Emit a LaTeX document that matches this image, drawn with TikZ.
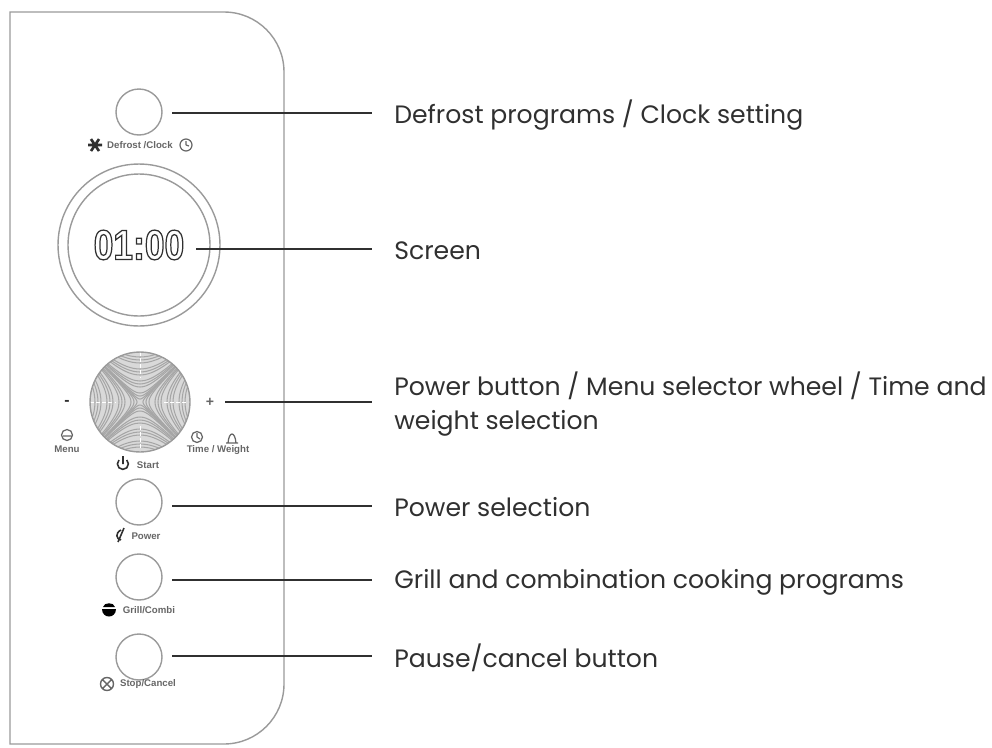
\documentclass[tikz,border=0pt]{standalone}
\usepackage{fontspec}
\setmainfont{Poppins}
\setsansfont{Liberation Sans}
\newfontfamily\lcdfont[FakeStretch=0.84]{Liberation Sans}
\usetikzlibrary{arrows.meta}

\definecolor{rimgray}{HTML}{9A9A9A}
\definecolor{inkgray}{HTML}{303030}
\definecolor{tinygray}{HTML}{666666}

\begin{document}
\begin{tikzpicture}[x=0.02cm,y=-0.02cm]
\useasboundingbox (0,0) rectangle (992,748);

% panel outline
\draw [rimgray,thick] (10,12) [rounded corners=1.2cm] -- (284,12) -- (284,744) [sharp corners] -- (10,744) -- cycle;

% wheel texture
\begin{scope}[shift={(140,402)}]
    \clip (0,0) circle (50);
    \fill [white!85!black] (-50,-50) rectangle (50,50);
    \foreach \a in {3,6,9,15,18,21,27,30,33,39,42,45,51,54,57,63,66,69} {
        \draw [gray!70,line width=0.6pt] plot [domain=-3:3,samples=31,smooth] ({\a*cosh(\x)},{\a*sinh(\x)});
        \draw [gray!70,line width=0.6pt] plot [domain=-3:3,samples=31,smooth] ({-\a*cosh(\x)},{\a*sinh(\x)});
        \draw [gray!70,line width=0.6pt] plot [domain=-3:3,samples=31,smooth] ({\a*sinh(\x)},{\a*cosh(\x)});
        \draw [gray!70,line width=0.6pt] plot [domain=-3:3,samples=31,smooth] ({\a*sinh(\x)},{-\a*cosh(\x)});
    }
    \draw [white,line width=0.5pt,dash pattern=on 2pt off 1.5pt] (-50,0) -- (-24,0) (24,0) -- (50,0) (0,-50) -- (0,-24) (0,24) -- (0,50);
\end{scope}

\begin{scope}[every node/.style={circle,draw=rimgray,thick,inner sep=0pt}]
    \node [minimum size=0.92cm] (defrost) at (139,112) {};
    \node [minimum size=3.24cm] (ringouter) at (139,245) {};
    \node [minimum size=2.84cm] (ringinner) at (139,245) {};
    \node [minimum size=2cm] (wheel) at (140,402) {};
    \node [minimum size=0.92cm] (power) at (139,502) {};
    \node [minimum size=0.92cm] (grill) at (139,577) {};
    \node [minimum size=0.92cm] (stop) at (139,657) {};
\end{scope}

% printed on the panel
\begin{scope}[every node/.style={font=\sffamily\bfseries\fontsize{5.5}{6}\selectfont,text=tinygray,inner sep=0pt}]
    \node (tdefrost) at (140,145) {Defrost /Clock};
    \node [font=\sffamily\bfseries\fontsize{9}{9}\selectfont,text=inkgray] (minus) at (67,403) {-};
    \node [font=\sffamily\bfseries\fontsize{8}{8}\selectfont,text=tinygray] (plus) at (210,402) {+};
    \node (tmenu) at (67,449) {Menu};
    \node (ttime) at (218,450) {Time / Weight};
    \node (tstart) at (148,465) {Start};
    \node (tpower) at (146,536) {Power};
    \node (tgrill) at (149,610) {Grill/Combi};
    \node (tstop) at (148,684) {Stop/Cancel};
    \node [font=\lcdfont\bfseries\fontsize{24}{24}\selectfont,text=inkgray] (clock) at (139,245) {\special{pdf:code 1 Tr 0.7 w}01:00\special{pdf:code 0 Tr}};
\end{scope}

% small icons
\begin{scope}[tinygray,line width=0.5pt]
    \draw [inkgray,line width=1.5pt] (88,145) -- (102,145) (91,139) -- (99,151) (91,151) -- (99,139);
    \draw [line width=0.7pt] (186,145) circle (6) (186,145) -- (186,141) (186,145) -- (189,146);
    \draw [line width=0.7pt] (67,435) circle (5.5) (63,436) -- (71,436);
    \draw [line width=0.7pt] (197,437) circle (5.5) (197,437) -- (197,433) (197,437) -- (200,439);
    \draw [line width=0.7pt] (226,443) -- (238,443) (228,443) .. controls (229,431) and (235,431) .. (236,443);
    \draw [inkgray,line width=0.9pt] (119,460) arc (225:-45:5.5) (123,456) -- (123,464);
    \draw [inkgray,line width=0.9pt] (118,542) -- (124,528) (121,530) .. controls (115,533) and (116,539) .. (121,540);
    \fill [black] (102,609) -- (116,609) .. controls (116,619) and (102,619) .. (102,609);
    \fill [black] (103,607) .. controls (104,602) and (114,602) .. (115,607) -- cycle;
    \draw [line width=0.8pt] (107,684) circle (6.5) (103,680) -- (111,688) (103,688) -- (111,680);
\end{scope}

% callout texts
\begin{scope}[every node/.style={font=\fontsize{14.3}{19.4}\selectfont,text=inkgray,anchor=west,align=left,inner sep=0pt}]
    \node (ldefrost) at (394,115) {Defrost programs / Clock setting};
    \node (lscreen) at (394,251) {Screen};
    \node (lwheel) at (394,404) {Power button / Menu selector wheel / Time and\\weight selection};
    \node (lpower) at (394,507) {Power selection};
    \node (lgrill) at (394,582) {Grill and combination cooking programs};
    \node (lstop) at (394,658) {Pause/cancel button};
\end{scope}

% leader lines
\coordinate (sdefrost) at (172,113);
\coordinate (sscreen) at (196,249);
\coordinate (swheel) at (225,402);
\coordinate (spower) at (172,506);
\coordinate (sgrill) at (172,580);
\coordinate (sstop) at (172,656);
\begin{scope}[every path/.style={draw=inkgray,thick,shorten >=0.44cm}]
    \path (sdefrost) -- (sdefrost -| ldefrost.west);
    \path (sscreen) -- (sscreen -| lscreen.west);
    \path (swheel) -- (swheel -| lwheel.west);
    \path (spower) -- (spower -| lpower.west);
    \path (sgrill) -- (sgrill -| lgrill.west);
    \path (sstop) -- (sstop -| lstop.west);
\end{scope}
\end{tikzpicture}
\end{document}
